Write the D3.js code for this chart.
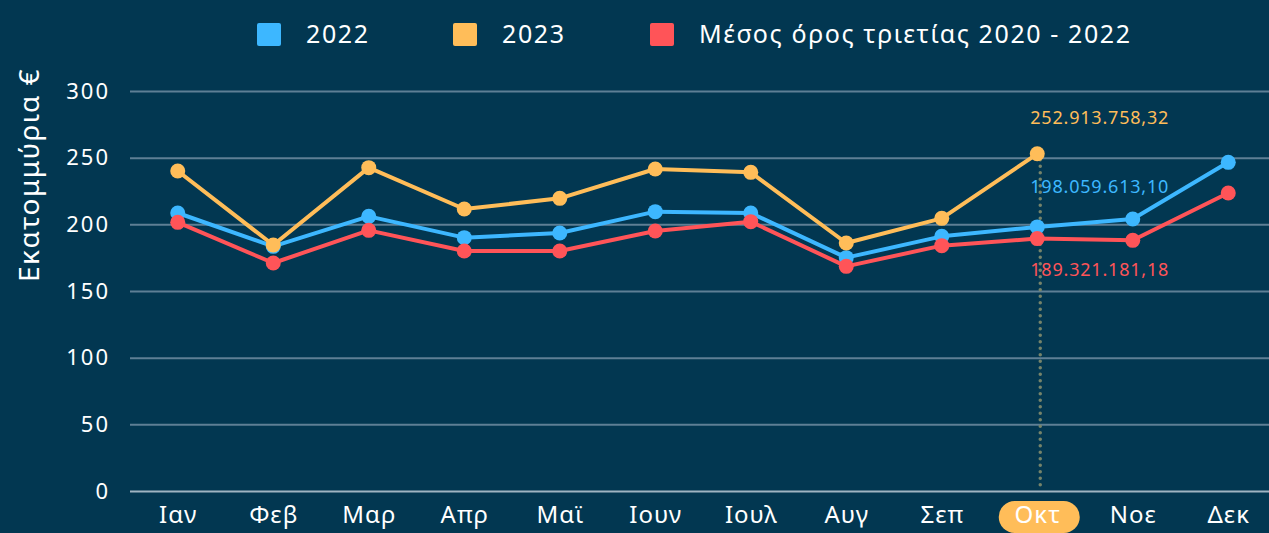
<!DOCTYPE html>
<html>
<head>
<meta charset="utf-8">
<script src="https://cdn.jsdelivr.net/npm/d3@7"></script>
<style>
  body { margin: 0; background: #023751; }
  svg { display: block; font-family: "Noto Sans", "Open Sans", sans-serif; }
</style>
</head>
<body>
<div id="chart"></div>
<script>
var svgWidth = 1269;
var svgHeight = 533;

// data (millions of euro)
var months = ["Ιαν", "Φεβ", "Μαρ", "Απρ", "Μαϊ", "Ιουν", "Ιουλ", "Αυγ", "Σεπ", "Οκτ", "Νοε", "Δεκ"];
var values2022 = [208.5, 183.5, 206, 190, 193.5, 209.5, 208.5, 175, 191, 198.06, 204, 246.5];
var values2023 = [240, 184.5, 242.5, 211.5, 219.5, 241.5, 239, 186, 204.5, 252.91, null, null];
var valuesAvg = [201.5, 171, 195.5, 180, 180, 195, 202, 168.5, 184, 189.32, 188, 223.5];
var yTicks = [0, 50, 100, 150, 200, 250, 300];
var seriesNames = ["2022", "2023", "Μέσος όρος τριετίας 2020 - 2022"];
var highlightMonth = "Οκτ";
var highlightLabels = ["198.059.613,10", "252.913.758,32", "189.321.181,18"];

var colors = ["#3db7ff", "#ffbd59", "#ff5458"];

var margin = { top: 91, right: 0, bottom: 42, left: 130 };
var width = svgWidth - margin.left - margin.right;
var height = svgHeight - margin.top - margin.bottom;

var svg = d3.select("#chart")
  .append("svg")
  .attr("width", svgWidth)
  .attr("height", svgHeight);

var chartGroup = svg.append("g")
  .attr("transform", `translate(${margin.left}, ${margin.top})`);

var xScale = d3.scalePoint()
  .domain(months)
  .range([0, 1146])
  .padding(0.5);

var yScale = d3.scaleLinear()
  .domain([0, 300])
  .range([height, 0]);

// gridlines + y labels
var yAxis = chartGroup.append("g")
  .call(d3.axisLeft(yScale).tickValues(yTicks).tickSize(-width).tickPadding(22))
  .attr("font-family", null)
  .attr("font-size", null);
yAxis.select(".domain").remove();
yAxis.selectAll(".tick line")
  .attr("stroke", "#5e7f95")
  .attr("stroke-width", 2);
yAxis.selectAll(".tick text")
  .attr("fill", "#ffffff")
  .attr("font-size", 22)
  .attr("letter-spacing", 2)
  .attr("x", -20);
yAxis.selectAll(".tick")
  .filter(d => d === 0)
  .select("line")
  .attr("stroke", "#9fb4c2");

// highlight line for October
var hx = xScale(highlightMonth) + 3;
chartGroup.append("line")
  .attr("x1", hx).attr("x2", hx)
  .attr("y1", yScale(250) + 2).attr("y2", height - 4)
  .attr("stroke", "#75836a")
  .attr("stroke-width", 3.5)
  .attr("stroke-linecap", "round")
  .attr("stroke-dasharray", "0,6.5");

// x axis labels
var xAxis = chartGroup.append("g")
  .attr("transform", `translate(0, ${height})`)
  .call(d3.axisBottom(xScale).tickSize(0).tickPadding(15))
  .attr("font-family", null)
  .attr("font-size", null);
xAxis.select(".domain").remove();
xAxis.selectAll(".tick")
  .filter(d => d === highlightMonth)
  .insert("rect", "text")
  .attr("x", -39).attr("y", 10)
  .attr("width", 81).attr("height", 32)
  .attr("rx", 16)
  .attr("fill", "#ffbd59");
xAxis.selectAll(".tick text")
  .attr("fill", "#ffffff")
  .attr("font-size", 24)
  .attr("letter-spacing", 1);

// lines and points
var allSeries = [values2022, valuesAvg, values2023];
var allColors = [colors[0], colors[2], colors[1]];
var line = d3.line()
  .defined(d => d != null)
  .x((d, i) => xScale(months[i]))
  .y(d => yScale(d));

allSeries.forEach(function(vals, k) {
  chartGroup.append("path")
    .datum(vals)
    .attr("fill", "none")
    .attr("stroke", allColors[k])
    .attr("stroke-width", 4)
    .attr("stroke-linejoin", "round")
    .attr("d", line);

  chartGroup.selectAll(null)
    .data(vals.map((v, i) => ({ v: v, m: months[i] })).filter(d => d.v != null))
    .enter()
    .append("circle")
    .attr("cx", d => xScale(d.m))
    .attr("cy", d => yScale(d.v))
    .attr("r", 7.5)
    .attr("fill", allColors[k]);
});

// value labels at October
var labelX = xScale(highlightMonth) - 7;
var valueLabels = chartGroup.append("g")
  .attr("font-size", 18)
  .attr("letter-spacing", 0.8);
valueLabels.append("text")
  .attr("x", labelX).attr("y", yScale(252.91) - 30)
  .attr("fill", colors[1])
  .text(highlightLabels[1]);
valueLabels.append("text")
  .attr("x", labelX).attr("y", yScale(198.06) - 34)
  .attr("fill", colors[0])
  .text(highlightLabels[0]);
valueLabels.append("text")
  .attr("x", labelX).attr("y", yScale(189.32) + 37)
  .attr("fill", colors[2])
  .text(highlightLabels[2]);

// y axis title
svg.append("text")
  .attr("transform", "translate(39, 175) rotate(-90)")
  .attr("text-anchor", "middle")
  .attr("fill", "#ffffff")
  .attr("font-size", 28)
  .attr("letter-spacing", 1.4)
  .text("Εκατομμύρια €");

// legend
var legendX = [257, 453, 650];
var legend = svg.append("g");
seriesNames.forEach(function(name, i) {
  legend.append("rect")
    .attr("x", legendX[i]).attr("y", 23)
    .attr("width", 24).attr("height", 23)
    .attr("rx", 2)
    .attr("fill", colors[i]);
  legend.append("text")
    .attr("x", legendX[i] + 49).attr("y", 43)
    .attr("fill", "#ffffff")
    .attr("font-size", 25)
    .attr("letter-spacing", 1.6)
    .text(name);
});
</script>
</body>
</html>
